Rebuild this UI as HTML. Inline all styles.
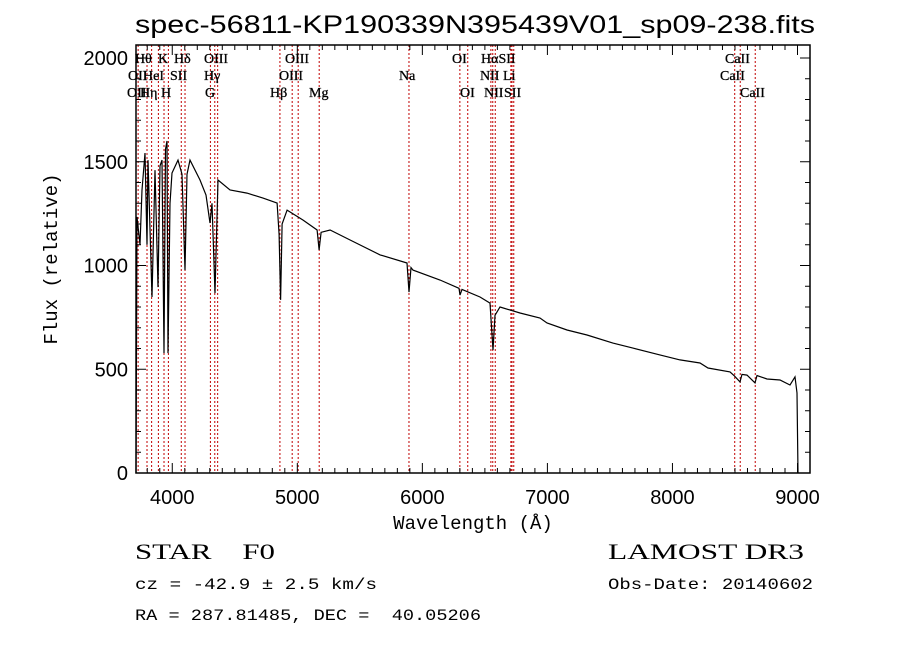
<!DOCTYPE html>
<html><head><meta charset="utf-8"><style>
html,body{margin:0;padding:0;background:#fff;}
svg{display:block;}
text{white-space:pre;}
</style></head><body>
<svg id="chart" xmlns="http://www.w3.org/2000/svg" width="900" height="649" viewBox="0 0 900 649">
<rect x="0" y="0" width="900" height="649" fill="#fff"/>
<text x="475" y="33" font-family="Liberation Sans, sans-serif" font-size="25" text-anchor="middle" textLength="680" lengthAdjust="spacingAndGlyphs">spec-56811-KP190339N395439V01_sp09-238.fits</text>
<g id="lines"></g>
<g id="labels"></g>
<path id="spec" fill="none" stroke="#000" stroke-width="1.2"/>
<g id="axes"></g>
<text x="473" y="529" font-family="Liberation Mono, monospace" font-size="19" text-anchor="middle">Wavelength (Å)</text>
<text transform="translate(57,259) rotate(-90)" font-family="Liberation Mono, monospace" font-size="19" text-anchor="middle">Flux (relative)</text>
<text x="135" y="559" font-family="Liberation Serif, serif" font-size="22" textLength="140" lengthAdjust="spacingAndGlyphs">STAR    F0</text>
<text x="135" y="589" font-family="Liberation Mono, monospace" font-size="16" textLength="242" lengthAdjust="spacingAndGlyphs">cz = -42.9 ± 2.5 km/s</text>
<text x="135" y="620" font-family="Liberation Mono, monospace" font-size="16" textLength="346" lengthAdjust="spacingAndGlyphs">RA = 287.81485, DEC =  40.05206</text>
<text x="608" y="559" font-family="Liberation Serif, serif" font-size="22" textLength="196" lengthAdjust="spacingAndGlyphs">LAMOST DR3</text>
<text x="608" y="589" font-family="Liberation Mono, monospace" font-size="16" textLength="205" lengthAdjust="spacingAndGlyphs">Obs-Date: 20140602</text>
</svg>
<script>
const wavelengths=[3710,3718,3742,3758,3782,3798,3806,3838,3862,3886,3902,3918,3934,3946,3958,3966,3982,3998,4046,4078,4102,4118,4142,4222,4270,4302,4318,4342,4366,4462,4598,4726,4838,4854,4866,4878,4918,5046,5158,5174,5190,5262,5422,5662,5877,5893,5909,5925,6141,6293,6301,6317,6461,6541,6565,6581,6621,6781,6941,6997,7157,7317,7524,7684,7900,8060,8220,8284,8460,8492,8540,8556,8596,8660,8676,8756,8860,8940,8980,8996,9004];
const fluxes=[0,1234,1100,1364,1542,1100,1508,848,1460,896,1480,1508,578,1560,1600,578,1300,1446,1508,1440,978,1440,1508,1412,1340,1205,1300,867,1412,1364,1349,1325,1301,1150,834,1200,1267,1219,1171,1075,1160,1171,1123,1051,1012,872,990,978,930,890,858,885,848,819,593,760,800,771,747,723,689,665,626,602,569,545,530,506,487,470,439,475,472,434,470,453,448,424,463,386,0];
const lineWaves=[3727,3798,3835,3889,3934,3969,4072,4102,4305,4340,4363,4861,4959,5007,5175,5893,6300,6363,6548,6563,6583,6708,6717,6731,8498,8542,8662];
const labelTexts=["Hθ","K","Hδ","OIII","OIII","OI","HαSII","CaII","OII","HeI","SII","Hγ","OIII","Na","NII","Li","CaII","OII","Hη","H","G","Hβ","Mg","OI","NII","SII","CaII"];
const labelX=[135,158,174,204,285,452,481,725,128,143,170,204,279,399,480,503,720,127,140,161,205,270,309,460,484,504,740];
const labelRow=[0,0,0,0,0,0,0,0,1,1,1,1,1,1,1,1,1,2,2,2,2,2,2,2,2,2,2];
const xTicks=[4000,5000,6000,7000,8000,9000];
const yTicks=[0,500,1000,1500,2000];
const X0=136,X1=810,Y0=473,Y1=45,WMIN=3710,WMAX=9100,FMAX=(473-45)/0.2075;
const xs=w=>X0+(w-WMIN)/(WMAX-WMIN)*(X1-X0);
const ys=f=>Y0-f/FMAX*(Y0-Y1);
const NS="http://www.w3.org/2000/svg";
function mk(tag,attrs,parent){const e=document.createElementNS(NS,tag);for(const k in attrs)e.setAttribute(k,attrs[k]);parent.appendChild(e);return e;}
const gL=document.getElementById('lines');
lineWaves.forEach(w=>{const l=mk('line',{x1:xs(w),x2:xs(w),y1:Y1,y2:Y0,stroke:'#c00000','stroke-width':1,'stroke-dasharray':'2,2'},gL);

});
const gT=document.getElementById('labels');
labelTexts.forEach((t,i)=>{const e=mk('text',{x:labelX[i],y:63+labelRow[i]*17,'font-family':'Liberation Serif, serif','font-size':14,stroke:'#000','stroke-width':0.3},gT);e.textContent=t;

});
let d='';wavelengths.forEach((w,i)=>{d+=(i?'L':'M')+xs(w).toFixed(1)+' '+ys(fluxes[i]).toFixed(1);});
document.getElementById('spec').setAttribute('d',d);
const gA=document.getElementById('axes');
const fr=mk('rect',{x:X0,y:Y1,width:X1-X0,height:Y0-Y1,fill:'none',stroke:'#000','stroke-width':1.5},gA);


for(let w=3800;w<=9100;w+=100){const maj=w%1000===0,len=maj?10:5,x=xs(w);
mk('line',{x1:x,x2:x,y1:Y0,y2:Y0-len,stroke:'#000'},gA);mk('line',{x1:x,x2:x,y1:Y1,y2:Y1+len,stroke:'#000'},gA);}
for(let f=100;f<FMAX;f+=100){const maj=f%500===0,len=maj?10:5,y=ys(f);
mk('line',{x1:X0,x2:X0+len,y1:y,y2:y,stroke:'#000'},gA);mk('line',{x1:X1,x2:X1-len,y1:y,y2:y,stroke:'#000'},gA);}
xTicks.forEach(w=>{const t=mk('text',{x:xs(w),y:Y0+31,'text-anchor':'middle','font-family':'Liberation Sans, sans-serif','font-size':20},gA);t.textContent=w;

});
yTicks.forEach(f=>{const t=mk('text',{x:X0-8,y:ys(f)+7,'text-anchor':'end','font-family':'Liberation Sans, sans-serif','font-size':20},gA);t.textContent=f;

});
</script>
</body></html>
